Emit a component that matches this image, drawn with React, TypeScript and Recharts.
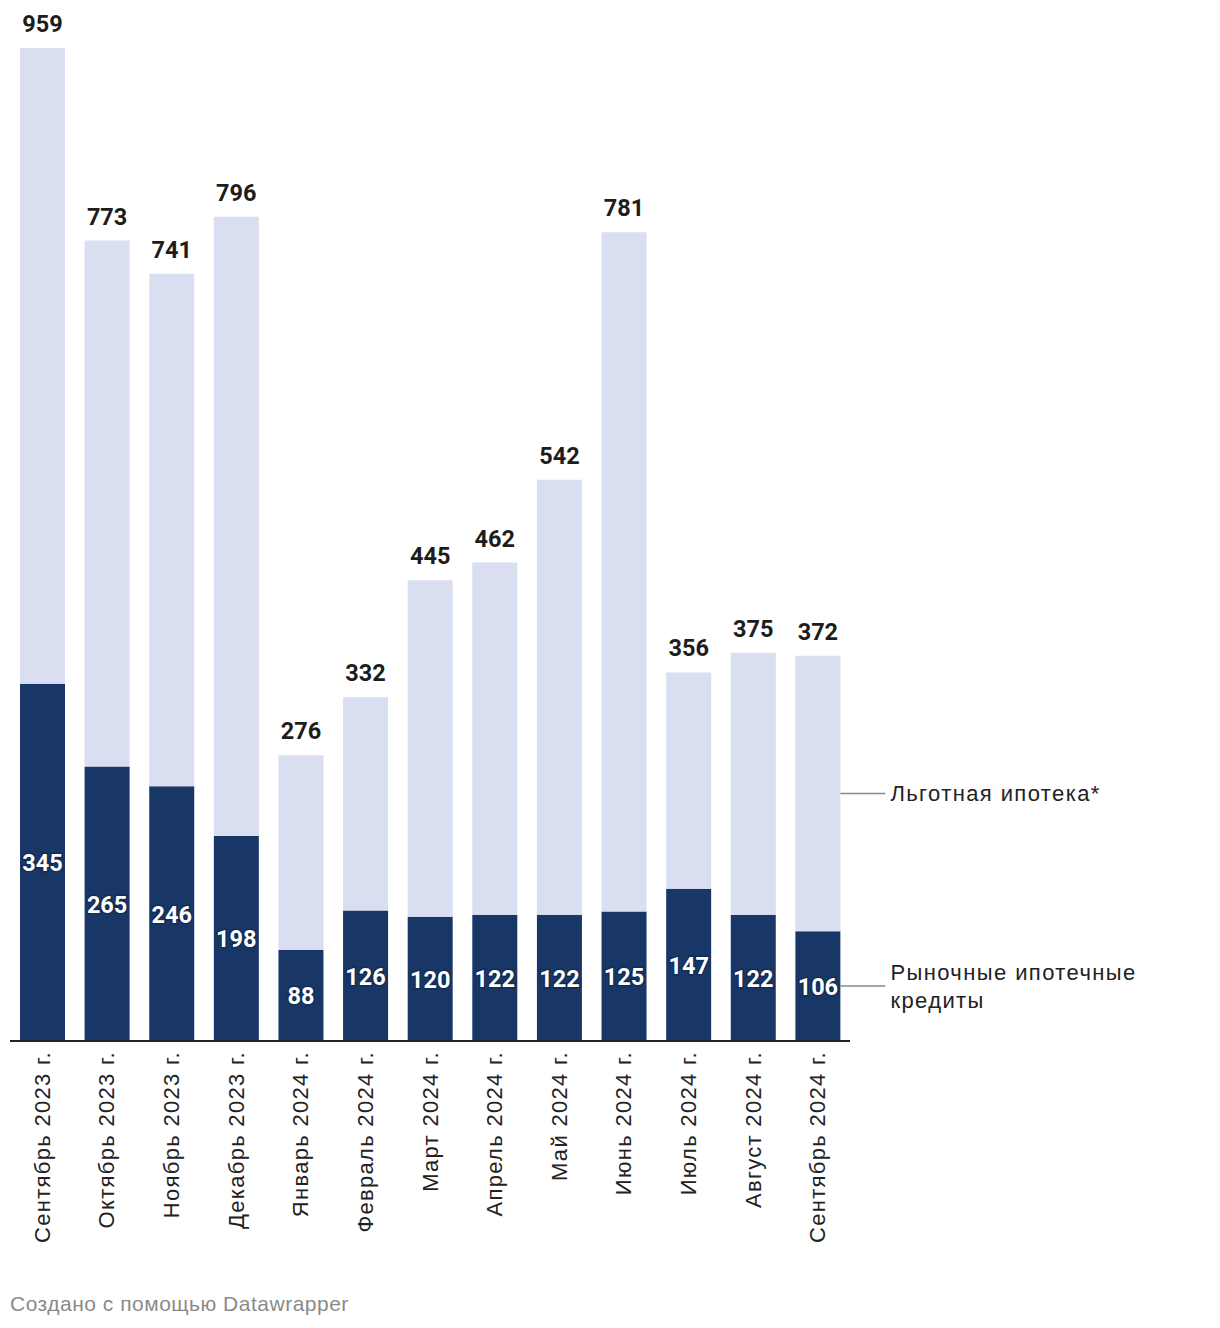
import { BarChart, Bar, XAxis, YAxis, LabelList } from "recharts"

const months = [
  "Сентябрь 2023 г.",
  "Октябрь 2023 г.",
  "Ноябрь 2023 г.",
  "Декабрь 2023 г.",
  "Январь 2024 г.",
  "Февраль 2024 г.",
  "Март 2024 г.",
  "Апрель 2024 г.",
  "Май 2024 г.",
  "Июнь 2024 г.",
  "Июль 2024 г.",
  "Август 2024 г.",
  "Сентябрь 2024 г.",
]
const marketLoans = [345, 265, 246, 198, 88, 126, 120, 122, 122, 125, 147, 122, 106]
const totals = [959, 773, 741, 796, 276, 332, 445, 462, 542, 781, 356, 375, 372]

const data = months.map((month, i) => ({
  month,
  market: marketLoans[i],
  preferential: totals[i] - marketLoans[i],
  total: totals[i],
}))

const DARK = "#183766"
const LIGHT = "#d9def0"
const TEXT_FONT = "'Liberation Sans', Arial, sans-serif"
const NUM_FONT = "Roboto, sans-serif"

const MonthTick = (props: any) => {
  const { x, y, payload } = props
  const ty = y + 8
  return (
    <text
      x={x}
      y={ty}
      transform={`rotate(-90, ${x}, ${ty})`}
      textAnchor="end"
      dominantBaseline="central"
      fontFamily={TEXT_FONT}
      fontSize={22}
      letterSpacing={1.3}
      fill="#222"
    >
      {payload.value}
    </text>
  )
}

const TotalLabel = (props: any) => {
  const { x, y, width, value } = props
  return (
    <text
      x={x + width / 2}
      y={y - 16}
      textAnchor="middle"
      fontFamily={NUM_FONT}
      fontWeight={700}
      fontSize={23.5}
      fill="#1d1d1d"
    >
      {value}
    </text>
  )
}

const InnerLabel = (props: any) => {
  const { x, y, width, height, value } = props
  return (
    <text
      x={x + width / 2}
      y={y + height / 2 + 1}
      textAnchor="middle"
      dominantBaseline="central"
      fontFamily={NUM_FONT}
      fontWeight={700}
      fontSize={23.5}
      fill="#fff"
      stroke="#0b1f3d"
      strokeOpacity={0.45}
      strokeWidth={3}
      style={{ paintOrder: "stroke" }}
    >
      {value}
    </text>
  )
}

const sideLabel = (lines: string[]) => (props: any) => {
  const { x, y, width, height, index } = props
  if (index !== months.length - 1) return null
  const cy = y + height / 2
  const x0 = x + width
  const lh = 28
  return (
    <g>
      <line x1={x0} y1={cy} x2={x0 + 45} y2={cy} stroke="#888" strokeWidth={1.5} />
      {lines.map((t, k) => (
        <text
          key={k}
          x={x0 + 50}
          y={cy + (k - (lines.length - 1) / 2) * lh}
          dominantBaseline="central"
          fontFamily={TEXT_FONT}
          fontSize={22}
          letterSpacing={1.4}
          fill="#222"
        >
          {t}
        </text>
      ))}
    </g>
  )
}

export default function App() {
  return (
    <div style={{ position: "relative", width: 1200, height: 1310 }}>
      <BarChart
        width={1200}
        height={1290}
        data={data}
        margin={{ top: 40, right: 358, bottom: 37, left: 2 }}
      >
        <XAxis
          dataKey="month"
          interval={0}
          height={220}
          tickLine={false}
          tickSize={0}
          axisLine={{ stroke: "#222", strokeWidth: 2 }}
          tick={<MonthTick />}
        />
        <YAxis hide domain={[0, 959]} allowDataOverflow />
        <Bar dataKey="market" stackId="a" fill={DARK} barSize={45} isAnimationActive={false}>
          <LabelList dataKey="market" content={<InnerLabel />} />
          <LabelList dataKey="market" content={sideLabel(["Рыночные ипотечные", "кредиты"])} />
        </Bar>
        <Bar dataKey="preferential" stackId="a" fill={LIGHT} barSize={45} isAnimationActive={false}>
          <LabelList dataKey="total" content={<TotalLabel />} />
          <LabelList dataKey="preferential" content={sideLabel(["Льготная ипотека*"])} />
        </Bar>
      </BarChart>
      <div
        style={{
          position: "absolute",
          left: 2,
          top: 1284,
          fontFamily: TEXT_FONT,
          fontSize: 21,
          letterSpacing: 0.5,
          color: "#8a8a8a",
        }}
      >
        Создано с помощью Datawrapper
      </div>
    </div>
  )
}
